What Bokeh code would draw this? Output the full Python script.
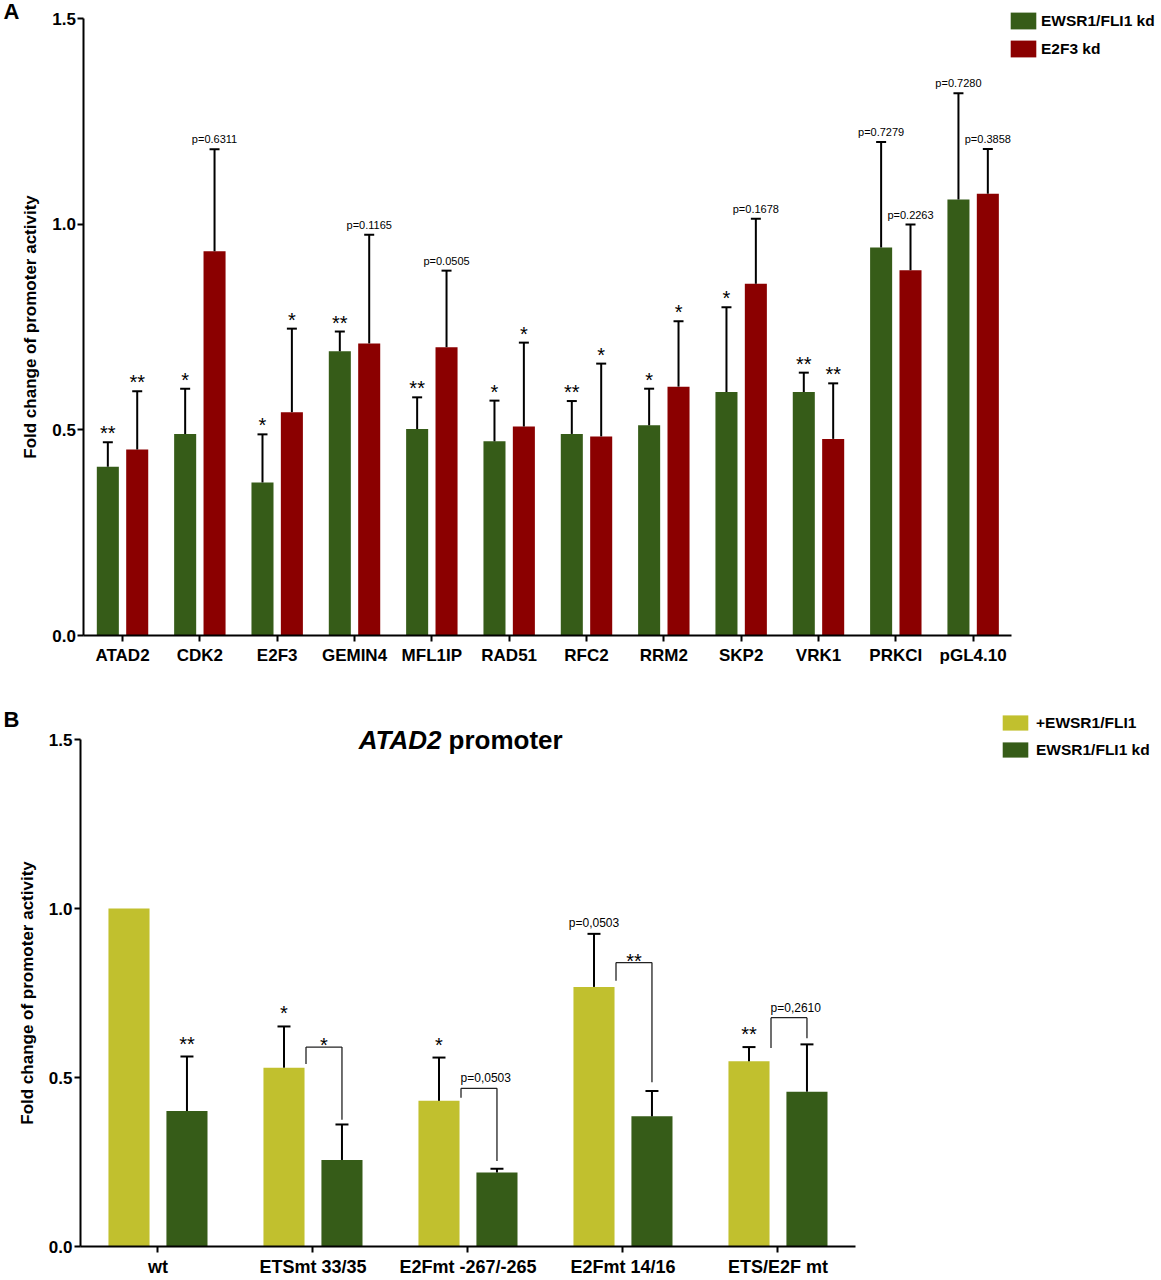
from bokeh.core.properties import value
from bokeh.embed import file_html
from bokeh.models import (ColumnDataSource, FixedTicker, Label, Legend, LegendItem,
                          PrintfTickFormatter, Range1d, TeeHead, Whisker)
from bokeh.plotting import figure
from bokeh.resources import INLINE
from bokeh.transform import dodge

FONT = "Liberation Sans"
GREEN = "#365c18"
RED = "#8b0000"
YELLOW = "#c1c02e"

# ---- panel A: promoter activity after knockdown
genes = ["ATAD2", "CDK2", "E2F3", "GEMIN4", "MFL1IP", "RAD51", "RFC2", "RRM2",
         "SKP2", "VRK1", "PRKCI", "pGL4.10"]
ewsr_kd = [0.41, 0.49, 0.372, 0.691, 0.502, 0.472, 0.49, 0.511, 0.592, 0.592, 0.943, 1.06]
ewsr_kd_err = [0.06, 0.11, 0.117, 0.048, 0.077, 0.099, 0.08, 0.089, 0.206, 0.047, 0.257, 0.258]
e2f3_kd = [0.452, 0.934, 0.543, 0.71, 0.701, 0.508, 0.484, 0.605, 0.855, 0.478, 0.888, 1.074]
e2f3_kd_err = [0.142, 0.248, 0.203, 0.264, 0.186, 0.204, 0.177, 0.159, 0.158, 0.135, 0.111, 0.109]
ewsr_kd_sig = ["**", "*", "*", "**", "**", "*", "**", "*", "*", "**", "p=0.7279", "p=0.7280"]
e2f3_kd_sig = ["**", "p=0.6311", "*", "p=0.1165", "p=0.0505", "*", "*", "*", "p=0.1678",
               "**", "p=0.2263", "p=0.3858"]

# ---- panel B: ATAD2 promoter mutants
constructs = ["wt", "ETSmt 33/35", "E2Fmt -267/-265", "E2Fmt 14/16", "ETS/E2F mt"]
plus_ewsr = [1.0, 0.529, 0.431, 0.768, 0.548]
plus_ewsr_err = [0.0, 0.122, 0.128, 0.157, 0.042]
kd_b = [0.401, 0.256, 0.219, 0.385, 0.458]
kd_b_err = [0.161, 0.105, 0.011, 0.075, 0.14]
plus_sig = ["", "*", "*", "p=0,0503", "**"]
kd_b_sig = ["**", "", "", "", ""]
pair_idx = [1, 2, 3, 4]  # constructs with a +EWSR1/FLI1 vs kd comparison
pair_sig = ["*", "p=0,0503", "**", "p=0,2610"]
pair_top = [0.59, 0.468, 0.84, 0.677]
pair_left_end = [0.54, 0.44, 0.786, 0.587]
pair_right_end = [0.375, 0.253, 0.486, 0.616]

W = 1158
# frames cover the whole figure; both axes are pinned with fixed_location/bounds
A_H, A_ZERO, A_PX = 674, 635, 617 / 1.5      # zero row and px per unit
A_X = (-1.578, 13.397)
B_H, B_ZERO, B_PX = 602, 572, 507 / 1.5
B_X = (-1.016, 6.455)


def make_fig(h, zero, px, xr, cats, xsize):
    n = len(cats)
    p = figure(width=W, height=h, x_range=Range1d(*xr),
               y_range=Range1d(-(h - zero) / px, zero / px),
               output_backend="svg", toolbar_location=None, min_border=0)
    p.xgrid.visible = False
    p.ygrid.visible = False
    p.outline_line_color = None
    p.xaxis.fixed_location = 0
    p.xaxis.bounds = (-0.5, n - 0.5)
    p.xaxis.ticker = FixedTicker(ticks=list(range(n)))
    p.xaxis.major_label_overrides = {i: c for i, c in enumerate(cats)}
    p.yaxis.fixed_location = -0.5
    p.yaxis.bounds = (0, 1.5)
    p.yaxis.ticker = FixedTicker(ticks=[0, 0.5, 1.0, 1.5])
    p.yaxis.formatter = PrintfTickFormatter(format="%.1f")
    for ax in (p.xaxis[0], p.yaxis[0]):
        ax.axis_line_width = 2
        ax.axis_line_color = "black"
        ax.major_tick_line_width = 2
        ax.major_tick_line_color = "black"
        ax.major_tick_in = 0
        ax.major_tick_out = 6
        ax.minor_tick_line_color = None
        ax.major_label_text_font = FONT
        ax.major_label_text_font_style = "bold"
        ax.major_label_text_color = "black"
        ax.major_label_text_font_size = "17px"
    p.xaxis.major_label_text_font_size = xsize
    p.xaxis.major_label_standoff = 4
    p.yaxis.major_label_standoff = 2
    p.yaxis.axis_label = "Fold change of promoter activity"
    p.yaxis.axis_label_text_font = FONT
    p.yaxis.axis_label_text_font_style = "bold"
    p.yaxis.axis_label_text_font_size = "17px"
    p.yaxis.axis_label_text_color = "black"
    p.yaxis.axis_label_standoff = 9
    return p


def error_bars(p, idx, lo, hi, off, head):
    src = ColumnDataSource(dict(i=idx, lo=lo, hi=hi))
    w = Whisker(base=dodge("i", off), lower="lo", upper="hi", source=src,
                upper_head=TeeHead(size=head, line_width=2, line_color="black"),
                lower_head=None, line_width=2, line_color="black", level="overlay")
    p.add_layout(w)


def texts(p, idx, ys, labels, off, size, dy, align="center"):
    rows = [(i, y, s) for i, y, s in zip(idx, ys, labels) if s]
    if not rows:
        return
    src = ColumnDataSource(dict(i=[r[0] for r in rows], y=[r[1] for r in rows],
                                t=[r[2] for r in rows]))
    p.text(x=dodge("i", off), y="y", text="t", source=src, text_font=value(FONT),
           text_font_size=size, text_align=align, text_baseline="alphabetic",
           y_offset=dy, text_color="black")


def sig_text(p, idx, tops, labels, off, star_size, star_dy, p_size, p_dy):
    stars = [s if s and not s.startswith("p") else "" for s in labels]
    pvals = [s if s.startswith("p") else "" for s in labels]
    texts(p, idx, tops, stars, off, star_size, star_dy)
    texts(p, idx, tops, pvals, off, p_size, p_dy)


def legend(p, items, vx, vy, gh, spacing, standoff):
    leg = Legend(items=items, location=(vx, vy))
    leg.glyph_width = 32
    leg.glyph_height = gh
    leg.label_standoff = standoff
    leg.label_height = 19
    leg.spacing = spacing
    leg.padding = 0
    leg.margin = 0
    leg.border_line_color = None
    leg.background_fill_alpha = 0
    leg.label_text_font = FONT
    leg.label_text_font_style = "bold"
    leg.label_text_font_size = "15.5px"
    leg.label_text_color = "black"
    p.add_layout(leg)


def screen_label(p, text, x, y, size):
    p.add_layout(Label(x=x, y=y, x_units="screen", y_units="screen", text=text,
                       text_font=FONT, text_font_style="bold", text_font_size=size,
                       text_align="left", text_baseline="top", text_color="black"))


# ---------------- figure A
pa = make_fig(A_H, A_ZERO, A_PX, A_X, genes, "17px")
ia = list(range(len(genes)))

rg = pa.vbar(x=dodge("i", -0.19), top="v", width=0.285,
             source=ColumnDataSource(dict(i=ia, v=ewsr_kd)), fill_color=GREEN, line_color=None)
rr = pa.vbar(x=dodge("i", 0.19), top="v", width=0.285,
             source=ColumnDataSource(dict(i=ia, v=e2f3_kd)), fill_color=RED, line_color=None)

g_hi = [v + e for v, e in zip(ewsr_kd, ewsr_kd_err)]
r_hi = [v + e for v, e in zip(e2f3_kd, e2f3_kd_err)]
error_bars(pa, ia, ewsr_kd, g_hi, -0.19, 10)
error_bars(pa, ia, e2f3_kd, r_hi, 0.19, 10)
sig_text(pa, ia, g_hi, ewsr_kd_sig, -0.19, "20px", -9, "11px", -10)
sig_text(pa, ia, r_hi, e2f3_kd_sig, 0.19, "20px", -9, "11px", -10)

legend(pa, [LegendItem(label="EWSR1/FLI1 kd", renderers=[rg]),
            LegendItem(label="E2F3 kd", renderers=[rr])], 1007, A_H - 10 - 49, 21, 7, 2)
screen_label(pa, "A", 3, A_H + 2, "22px")

# ---------------- figure B
pb = make_fig(B_H, B_ZERO, B_PX, B_X, constructs, "18px")
ib = list(range(len(constructs)))

ry = pb.vbar(x=dodge("i", -0.187), top="v", width=0.265,
             source=ColumnDataSource(dict(i=ib, v=plus_ewsr)), fill_color=YELLOW,
             line_color=None)
rk = pb.vbar(x=dodge("i", 0.187), top="v", width=0.265,
             source=ColumnDataSource(dict(i=ib, v=kd_b)), fill_color=GREEN, line_color=None)

y_hi = [v + e for v, e in zip(plus_ewsr, plus_ewsr_err)]
k_hi = [v + e for v, e in zip(kd_b, kd_b_err)]
keep = [i for i, e in enumerate(plus_ewsr_err) if e > 0]
error_bars(pb, keep, [plus_ewsr[i] for i in keep], [y_hi[i] for i in keep], -0.187, 13)
error_bars(pb, ib, kd_b, k_hi, 0.187, 13)
sig_text(pb, ib, y_hi, plus_sig, -0.187, "20px", -13, "12px", -11)
sig_text(pb, ib, k_hi, kd_b_sig, 0.187, "20px", -13, "12px", -11)

# comparison brackets
br = ColumnDataSource(dict(i=pair_idx, top=pair_top, le=pair_left_end, re=pair_right_end))
xl = dodge("i", -0.045)
xr = dodge("i", 0.187)
for x0, y0, x1, y1 in ((xl, "top", xr, "top"), (xl, "top", xl, "le"), (xr, "top", xr, "re")):
    pb.segment(x0=x0, y0=y0, x1=x1, y1=y1, source=br, line_color="#222222", line_width=1.3)
pair_stars = [s if not s.startswith("p") else "" for s in pair_sig]
pair_p = [s if s.startswith("p") else "" for s in pair_sig]
texts(pb, pair_idx, pair_top, pair_stars, 0.071, "20px", -2)
texts(pb, pair_idx, pair_top, pair_p, -0.048, "12px", -10, align="left")

legend(pb, [LegendItem(label="+EWSR1/FLI1", renderers=[ry]),
            LegendItem(label="EWSR1/FLI1 kd", renderers=[rk])], 999, B_H - 39 - 46, 19, 8, 5)
screen_label(pb, "B", 3, B_H - 32, "22px")

# title with italic gene name
pb.add_layout(Label(x=441, y=1.5, x_units="screen", y_units="data", text="ATAD2",
                    text_font=FONT, text_font_style="bold italic", text_font_size="26px",
                    text_align="right", text_baseline="middle", text_color="black"))
pb.add_layout(Label(x=448, y=1.5, x_units="screen", y_units="data", text="promoter",
                    text_font=FONT, text_font_style="bold", text_font_size="26px",
                    text_align="left", text_baseline="middle", text_color="black"))

open("out.html", "w").write(file_html([pa, pb], INLINE))
